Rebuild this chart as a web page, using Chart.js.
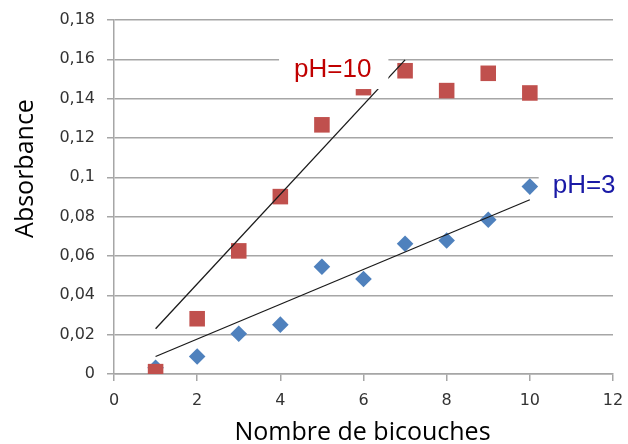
<!DOCTYPE html>
<html>
<head>
<meta charset="utf-8">
<script src="https://cdn.jsdelivr.net/npm/chart.js@4.4.1/dist/chart.umd.min.js"></script>
<style>
  html, body { margin: 0; padding: 0; background: #fff; }
  #wrap { width: 628px; height: 444px; }
</style>
</head>
<body>
<div id="wrap"><canvas id="c" width="628" height="444"></canvas></div>
<script>
// Number of bilayers
const bilayers = [1, 2, 3, 4, 5, 6, 7, 8, 9, 10];
// Absorbance per deposition pH
const absPH10 = [0.0012, 0.0281, 0.0626, 0.0902, 0.1267, 0.1456, 0.1542, 0.1441, 0.1529, 0.1429];
const absPH3  = [0.0032, 0.0089, 0.0205, 0.0251, 0.0545, 0.0483, 0.0662, 0.0679, 0.0784, 0.0953];
// Trend lines (start / end)
const trendPH10 = { x: [1, 7],  y: [0.023, 0.1597] };
const trendPH3  = { x: [1, 10], y: [0.0089, 0.0886] };
// Axis tick labels
const xTickLabels = ['0', '2', '4', '6', '8', '10', '12'];
const yTickLabels = ['0', '0,02', '0,04', '0,06', '0,08', '0,1', '0,12', '0,14', '0,16', '0,18'];
// Series captions and where they sit (data units: left edge, baseline)
const seriesLabels = [
  { text: 'pH=10', x: 4.33, y: 0.151, color: '#c00000', padL: 15, padR: 17, padT: 32, padB: 12 },
  { text: 'pH=3',  x: 10.55, y: 0.0921, color: '#1a1aa6', padL: 14, padR: 20, padT: 30, padB: 12 }
];

const toPoints = (xs, ys) => xs.map((x, i) => ({ x: x, y: ys[i] }));

const gridColor = '#a6a6a6';
const tickFont = { family: '"DejaVu Sans"', size: 16, weight: 'normal' };

const captions = {
  id: 'captions',
  afterDatasetsDraw(chart) {
    const ctx = chart.ctx;
    const xs = chart.scales.x, ys = chart.scales.y;
    ctx.save();
    ctx.font = '26px "Liberation Sans", Arial, sans-serif';
    ctx.textBaseline = 'alphabetic';
    ctx.textAlign = 'left';
    seriesLabels.forEach(l => {
      const px = xs.getPixelForValue(l.x);
      const py = ys.getPixelForValue(l.y);
      const w = ctx.measureText(l.text).width;
      ctx.fillStyle = '#ffffff';
      ctx.fillRect(px - l.padL, py - l.padT, w + l.padL + l.padR, l.padT + l.padB);
      ctx.fillStyle = l.color;
      ctx.fillText(l.text, px, py);
    });
    ctx.restore();
  },
  afterDraw(chart) {
    const ctx = chart.ctx;
    const area = chart.chartArea;
    ctx.save();
    ctx.fillStyle = '#000000';
    ctx.font = '25px "Open Sans", sans-serif';
    ctx.textAlign = 'center';
    ctx.textBaseline = 'alphabetic';
    ctx.fillText('Nombre de bicouches', (area.left + area.right) / 2 - 1, 440);
    ctx.translate(33, 168.5);
    ctx.rotate(-Math.PI / 2);
    ctx.fillText('Absorbance', 0, 0);
    ctx.restore();
  }
};

new Chart(document.getElementById('c'), {
  type: 'scatter',
  data: {
    datasets: [
      {
        label: 'Tendance pH=10',
        type: 'line',
        data: toPoints(trendPH10.x, trendPH10.y),
        borderColor: '#1a1a1a',
        borderWidth: 1.3,
        pointRadius: 0,
        fill: false,
        order: 0
      },
      {
        label: 'Tendance pH=3',
        type: 'line',
        data: toPoints(trendPH3.x, trendPH3.y),
        borderColor: '#1a1a1a',
        borderWidth: 1.3,
        pointRadius: 0,
        fill: false,
        order: 0
      },
      {
        label: 'pH=10',
        data: toPoints(bilayers, absPH10),
        pointStyle: 'rect',
        pointRadius: 11,
        backgroundColor: '#c0504d',
        borderColor: '#c0504d',
        borderWidth: 0,
        order: 1
      },
      {
        label: 'pH=3',
        data: toPoints(bilayers, absPH3),
        pointStyle: 'rectRot',
        pointRadius: 8.3,
        backgroundColor: '#4f81bd',
        borderColor: '#4f81bd',
        borderWidth: 0,
        order: 2
      }
    ]
  },
  options: {
    responsive: false,
    animation: false,
    devicePixelRatio: 1,
    layout: { padding: { left: 0, right: 15, top: 20, bottom: 0 } },
    plugins: {
      legend: { display: false },
      tooltip: { enabled: false }
    },
    scales: {
      x: {
        type: 'linear',
        min: 0,
        max: 12,
        afterFit: s => { s.height = 70; s.paddingLeft = 0; s.paddingRight = 0; },
        afterBuildTicks: s => {
          s.ticks = xTickLabels.map((_, i) => ({ value: i * 2 }));
        },
        ticks: {
          callback: (v, i) => xTickLabels[i],
          font: tickFont,
          color: '#333333',
          padding: 10,
          maxRotation: 0
        },
        grid: {
          drawOnChartArea: false,
          drawTicks: true,
          tickLength: 7,
          color: gridColor,
          lineWidth: 1.5
        },
        border: { display: true, color: gridColor, width: 1.5 }
      },
      y: {
        type: 'linear',
        min: 0,
        max: 0.18,
        afterFit: s => { s.width = 114; s.paddingTop = 0; s.paddingBottom = 0; },
        afterBuildTicks: s => {
          s.ticks = yTickLabels.map((_, i) => ({ value: i * 0.02 }));
        },
        ticks: {
          callback: (v, i) => yTickLabels[i],
          font: tickFont,
          color: '#333333',
          padding: 12
        },
        grid: {
          drawTicks: true,
          tickLength: 7,
          color: gridColor,
          lineWidth: 1.5
        },
        border: { display: true, color: gridColor, width: 1.5 }
      }
    }
  },
  plugins: [captions]
});
</script>
</body>
</html>
